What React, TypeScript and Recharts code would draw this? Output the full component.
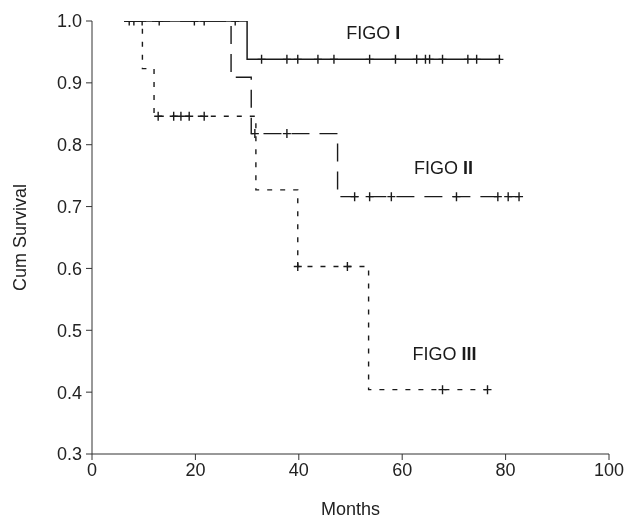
// @ts-nocheck
import { ComposedChart, Line, XAxis, YAxis, ReferenceDot } from "recharts";

// Kaplan-Meier steps (months, cumulative survival)
const figo1Times = [6.2, 30.0, 79.0];
const figo1Surv = [1.0, 0.938, 0.938];
const figo1Censored = [7.2, 8.1, 9.7, 13.0, 19.8, 21.7, 27.7, 32.8, 37.7, 39.8, 43.7, 46.8, 53.7, 58.7, 62.8, 64.5, 65.3, 67.8, 72.7, 74.4, 78.8];

const figo2Times = [6.2, 26.9, 30.8, 47.5, 82.6];
const figo2Surv = [1.0, 0.909, 0.818, 0.716, 0.716];
const figo2Censored = [31.5, 37.7, 50.8, 53.7, 57.9, 70.5, 78.5, 80.5, 82.6];

const figo3Times = [6.2, 9.75, 12.0, 31.7, 39.8, 53.5, 76.5];
const figo3Surv = [1.0, 0.923, 0.846, 0.727, 0.603, 0.404, 0.404];
const figo3Censored = [12.8, 15.8, 17.2, 18.8, 21.7, 39.8, 49.4, 67.8, 76.5];

const xTicks = [0, 20, 40, 60, 80, 100];
const yTicks = [0.3, 0.4, 0.5, 0.6, 0.7, 0.8, 0.9, 1.0];

const INK = "#1a1a1a";
const FONT = "'Liberation Sans', Arial, sans-serif";

const toSteps = (times, surv) => times.map((t, i) => ({ t, s: surv[i] }));

// value of the step curve at time t
const survAt = (times, surv, t) => {
  let v = surv[0];
  times.forEach((x, i) => {
    if (x <= t) v = surv[i];
  });
  return v;
};

const toCensor = (times, surv, cens) =>
  cens.map((t) => ({ t, s: survAt(times, surv, t) }));

const CensorMark = (props) => {
  const { cx, cy, index } = props;
  if (cx == null || cy == null) return null;
  return (
    <path
      key={index}
      d={`M${cx - 4},${cy}H${cx + 4}M${cx},${cy - 4.5}V${cy + 4.5}`}
      stroke={INK}
      strokeWidth={1.4}
      fill="none"
    />
  );
};

const groupLabel = (name, numeral) => (p) => (
  <text
    x={p.cx}
    y={p.cy}
    textAnchor="middle"
    dominantBaseline="central"
    fontFamily={FONT}
    fontSize={18}
    fill={INK}
  >
    {name}
    <tspan fontWeight="bold">{numeral}</tspan>
  </text>
);

export default function App() {
  return (
    <div style={{ position: "fixed", left: 0, top: 0, width: 627, height: 525 }}>
      <ComposedChart
        width={627}
        height={525}
        margin={{ top: 21, right: 18, bottom: 0, left: 0 }}
        style={{ overflow: "visible" }}
      >
        <XAxis
          type="number"
          dataKey="t"
          domain={[0, 100]}
          ticks={xTicks}
          interval={0}
          allowDataOverflow
          height={71}
          tickSize={6}
          tickMargin={3}
          stroke="#333"
          tick={{ fill: "#222", fontSize: 18, fontFamily: FONT }}
          label={{
            value: "Months",
            position: "insideBottom",
            offset: 10,
            fill: "#222",
            fontSize: 18,
            fontFamily: FONT,
          }}
        />
        <YAxis
          type="number"
          dataKey="s"
          domain={[0.3, 1.0]}
          ticks={yTicks}
          interval={0}
          allowDataOverflow
          width={92}
          tickSize={6}
          tickMargin={4}
          stroke="#333"
          tickFormatter={(v) => v.toFixed(1)}
          tick={{ fill: "#222", fontSize: 18, fontFamily: FONT }}
          label={{
            value: "Cum Survival",
            angle: -90,
            position: "insideLeft",
            offset: 20,
            fill: "#222",
            fontSize: 18,
            fontFamily: FONT,
            style: { textAnchor: "middle" },
          }}
        />

        <Line
          data={toSteps(figo3Times, figo3Surv)}
          dataKey="s"
          type="stepAfter"
          stroke={INK}
          strokeWidth={1.4}
          strokeDasharray="5 8"
          dot={false}
          isAnimationActive={false}
        />
        <Line
          data={toSteps(figo2Times, figo2Surv)}
          dataKey="s"
          type="stepAfter"
          stroke={INK}
          strokeWidth={1.4}
          strokeDasharray="18 10"
          dot={false}
          isAnimationActive={false}
        />
        <Line
          data={toSteps(figo1Times, figo1Surv)}
          dataKey="s"
          type="stepAfter"
          stroke={INK}
          strokeWidth={1.5}
          dot={false}
          isAnimationActive={false}
        />

        <Line
          data={toCensor(figo3Times, figo3Surv, figo3Censored)}
          dataKey="s"
          stroke="none"
          dot={CensorMark}
          activeDot={false}
          isAnimationActive={false}
        />
        <Line
          data={toCensor(figo2Times, figo2Surv, figo2Censored)}
          dataKey="s"
          stroke="none"
          dot={CensorMark}
          activeDot={false}
          isAnimationActive={false}
        />
        <Line
          data={toCensor(figo1Times, figo1Surv, figo1Censored)}
          dataKey="s"
          stroke="none"
          dot={CensorMark}
          activeDot={false}
          isAnimationActive={false}
        />

        <ReferenceDot x={54.4} y={0.98} r={0} shape={groupLabel("FIGO ", "I")} />
        <ReferenceDot x={68.0} y={0.762} r={0} shape={groupLabel("FIGO ", "II")} />
        <ReferenceDot x={68.2} y={0.462} r={0} shape={groupLabel("FIGO ", "III")} />
      </ComposedChart>
    </div>
  );
}
